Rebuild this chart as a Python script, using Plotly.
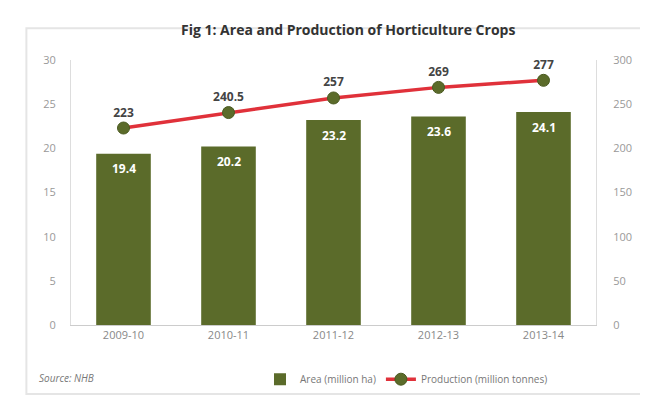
import plotly.graph_objects as go

years = ["2009-10", "2010-11", "2011-12", "2012-13", "2013-14"]
area = [19.4, 20.2, 23.2, 23.6, 24.1]
production = [223, 240.5, 257, 269, 277]
left_ticks = [0, 5, 10, 15, 20, 25, 30]
right_ticks = [0, 50, 100, 150, 200, 250, 300]

bar_color = "#5b6b2a"
line_color = "#e0313a"

fig = go.Figure()
fig.add_trace(go.Bar(
    x=years, y=area, name="Area (million ha)",
    marker=dict(color=bar_color, line=dict(width=0)),
    width=0.52,
    yaxis="y",
))
fig.add_trace(go.Scatter(
    x=years, y=production, name="Production (million tonnes)",
    mode="lines+markers+text",
    line=dict(color=line_color, width=3.5),
    marker=dict(color=bar_color, size=12, line=dict(color="#4a5a20", width=1)),
    text=[str(v) for v in production], textposition="top center",
    textfont=dict(color="#444444", size=12, family="Open Sans", weight="bold"),
    yaxis="y2",
))

annotations = [dict(text="<i>Source: NHB</i>", xref="paper", yref="paper",
                    x=-0.065, y=-0.2, xanchor="left", yanchor="middle",
                    showarrow=False, font=dict(size=10, color="#777777"))]
for yr, v in zip(years, area):
    annotations.append(dict(x=yr, y=v, xref="x", yref="y", text=f"<b>{v}</b>",
                            showarrow=False, yanchor="middle", yshift=-15,
                            font=dict(color="white", size=12, family="Open Sans")))

fig.update_layout(
    width=648, height=396,
    margin=dict(l=63, r=60, t=52, b=78),
    paper_bgcolor="white", plot_bgcolor="white",
    font=dict(family="Open Sans", color="#888888", size=11),
    title=dict(text="<b>Fig 1: Area and Production of Horticulture Crops</b>",
               x=0.525, xanchor="center", y=0.945, yanchor="middle",
               font=dict(size=14, color="#333333", family="Open Sans")),
    showlegend=True,
    legend=dict(orientation="h", x=0.36, xanchor="left", y=-0.2, yanchor="middle",
                font=dict(size=10, color="#777777"), bgcolor="rgba(0,0,0,0)",
                itemwidth=30, tracegroupgap=0),
    xaxis=dict(type="category", showline=True, linecolor="#cccccc", linewidth=1, ticks="",
               tickfont=dict(size=11, color="#888888")),
    yaxis=dict(range=[0, 30], tickvals=left_ticks, showgrid=False, zeroline=False,
               showline=True, linecolor="#dddddd", ticks="", ticklabelstandoff=12,
               tickfont=dict(size=11, color="#999999")),
    yaxis2=dict(range=[0, 300], tickvals=right_ticks, overlaying="y", side="right",
                showgrid=False, zeroline=False, showline=True, linecolor="#dddddd",
                ticks="", ticklabelstandoff=14, tickfont=dict(size=11, color="#999999")),
    annotations=annotations,
    shapes=[dict(type="rect", xref="paper", yref="paper", x0=-0.085, x1=1.09,
                 y0=-0.26, y1=1.12, line=dict(color="#e5e5e5", width=2))],
)

fig.write_html("out.html")
